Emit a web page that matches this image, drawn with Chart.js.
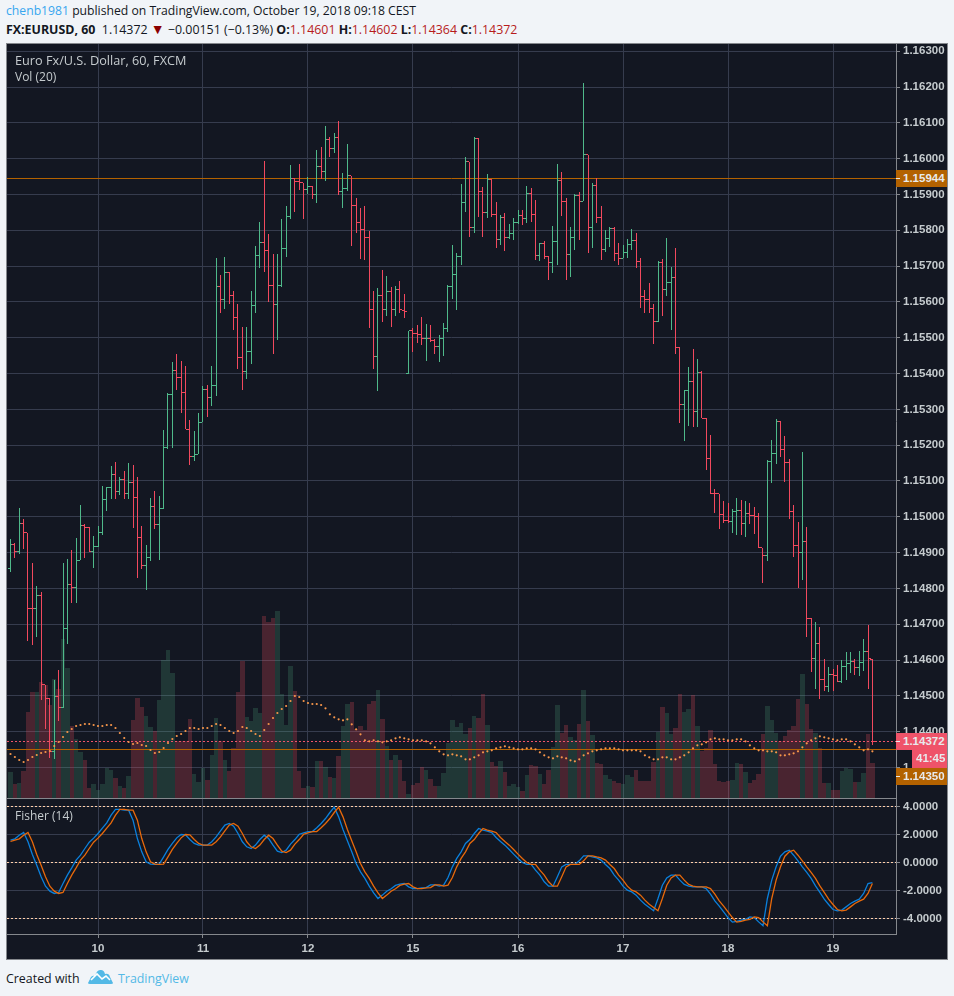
<!DOCTYPE html>
<html>
<head>
<meta charset="utf-8">
<script src="https://cdn.jsdelivr.net/npm/chart.js@4"></script>
<style>
html,body{margin:0;padding:0;background:#f1f4f8;width:954px;height:996px;overflow:hidden}
body{position:relative;font-family:"Open Sans","Noto Sans",sans-serif;color:#131722}
.abs{position:absolute;white-space:nowrap}
#panel{position:absolute;left:6px;top:43px;width:942px;height:917px;box-sizing:border-box;background:#131722;border:1px solid #85888d}
canvas{position:absolute;display:block}
.hdr{font-size:12.4px;line-height:18px}
.legend{color:#c5cbce;font-size:12px;line-height:16px}
.tag{position:absolute;left:896px;width:51px;height:17px;line-height:17px;font:bold 11.5px/17px "Liberation Sans",sans-serif;color:#e8eaec;text-indent:7px}
.tag i{position:absolute;left:0;top:8px;width:4px;height:1px;background:#e8eaec}
</style>
</head>
<body>
<div class="abs hdr" style="left:6px;top:2px;font-size:12.2px"><span style="color:#37a6ef">chenb1981</span> published on TradingView.com, October 19, 2018 09:18 CEST</div>
<div class="abs hdr" style="left:6px;top:21px"><b>FX:EURUSD, 60</b>&nbsp; 1.14372 <span style="color:#8b0000;font-size:14px;line-height:0">▼</span> −0.00151 (−0.13%) <b>O:</b><span style="color:#b71c1c">1.14601</span> <b>H:</b><span style="color:#b71c1c">1.14602</span> <b>L:</b><span style="color:#b71c1c">1.14364</span> <b>C:</b><span style="color:#b71c1c">1.14372</span></div>
<div id="panel"></div>
<canvas id="priceCanvas" width="940" height="754" style="left:7px;top:44px;width:940px;height:754px"></canvas>
<canvas id="fisherCanvas" width="940" height="161" style="left:7px;top:798px;width:940px;height:161px"></canvas>
<div class="abs" style="left:7px;top:798px;width:889px;height:1px;background:#85888d"></div>
<div class="abs legend" style="left:15px;top:52px;font-size:12.7px">Euro Fx/U.S. Dollar, 60, FXCM</div>
<div class="abs legend" style="left:15px;top:69px">Vol (20)</div>
<div class="abs legend" style="left:15px;top:808px">Fisher (14)</div>
<div class="tag" style="top:170px;background:#b36200"><i></i>1.15944</div>
<div class="tag" style="top:733px;background:#ef5369"><i></i>1.14372</div>
<div class="tag" style="top:750px;left:912px;width:35px;height:18px;background:#ef5369;text-indent:4px">41:45</div>
<div class="tag" style="top:768px;background:#b36200"><i></i>1.14350</div>
<div class="abs" style="left:6px;top:970px;font-size:12.4px;line-height:18px">Created with</div>
<svg class="abs" style="left:88px;top:968px" width="25" height="17" viewBox="0 0 25 17"><path d="M0 15 L3 9 Q5 7 7 8 Q9 1 13 2 Q16 2 17 6 Q21 5 22 9 L25 15 Q25 16 23 16 L2 16 Q0 16 0 15Z" fill="#53b9e6"/><path d="M3 12 L9 6 L14 11 L18 8 L22 12" fill="none" stroke="#fff" stroke-width="1.6"/></svg>
<div class="abs" style="left:118px;top:970px;font-size:12.4px;line-height:18px;color:#53b9e6">TradingView</div>

<script>
const dayIndex=[20,44,68,92,116,140,164,188];
const dayLabels=['10','11','12','15','16','17','18','19'];
const priceTicks=[1.163,1.162,1.161,1.160,1.159,1.158,1.157,1.156,1.155,1.154,1.153,1.152,1.151,1.150,1.149,1.148,1.147,1.146,1.145,1.144,1.143];
const fisherTicks=[4,2,0,-2,-4];
const fisherLevels=[4,0,-4];
const alertPrice=1.15944;
const alertPrice2=1.14350;
const lastPrice=1.14372;

const opens=[1.14856,1.14922,1.14903,1.14981,1.14956,1.14744,1.14744,1.14781,1.14531,1.14492,
1.14344,1.14497,1.14467,1.14689,1.14811,1.14803,1.14878,1.14975,1.14969,1.14903,
1.14917,1.14956,1.15047,1.15083,1.15119,1.15072,1.15103,1.15064,1.15097,1.15053,
1.14942,1.14863,1.14886,1.15028,1.14978,1.15022,1.15194,1.15342,1.15408,1.15389,
1.15347,1.15244,1.15169,1.15175,1.15264,1.15356,1.15333,1.15367,1.15644,1.15606,
1.15683,1.15619,1.15556,1.15444,1.15406,1.15461,1.15589,1.15731,1.15767,1.15744,
1.15647,1.15592,1.15647,1.15750,1.15839,1.15944,1.15936,1.15933,1.15914,1.15922,
1.15900,1.15978,1.15964,1.16053,1.16028,1.16058,1.15908,1.15917,1.15953,1.15869,
1.15822,1.15803,1.15781,1.15578,1.15447,1.15617,1.15578,1.15628,1.15578,1.15636,
1.15575,1.15400,1.15519,1.15511,1.15508,1.15497,1.15497,1.15492,1.15475,1.15497,
1.15525,1.15644,1.15678,1.15728,1.15878,1.15992,1.15808,1.16056,1.15908,1.15850,
1.15942,1.15844,1.15775,1.15836,1.15781,1.15792,1.15822,1.15842,1.15833,1.15903,
1.15844,1.15731,1.15764,1.15728,1.15711,1.15769,1.15939,1.15881,1.15733,1.15781,
1.15897,1.15881,1.16011,1.15808,1.15925,1.15836,1.15747,1.15778,1.15806,1.15736,
1.15722,1.15739,1.15761,1.15772,1.15714,1.15614,1.15608,1.15583,1.15544,1.15711,
1.15636,1.15653,1.15669,1.15473,1.15314,1.15354,1.15378,1.15294,1.15403,1.15275,
1.15162,1.15065,1.15064,1.15006,1.14989,1.14986,1.15014,1.15019,1.14980,1.15008,
1.15003,1.15000,1.14914,1.14892,1.15155,1.15178,1.15267,1.15189,1.15153,1.15014,
1.14921,1.14900,1.14930,1.14717,1.14603,1.14647,1.14547,1.14525,1.14561,1.14558,
1.14539,1.14581,1.14589,1.14597,1.14578,1.14592,1.14625,1.14601];

const highs=[1.14939,1.14928,1.15025,1.14994,1.14956,1.14872,1.14808,1.14789,1.14531,1.14494,
1.14544,1.14573,1.14872,1.14881,1.14906,1.14942,1.15033,1.14981,1.14972,1.14947,
1.14975,1.15086,1.15083,1.15142,1.15153,1.15111,1.15128,1.15150,1.15145,1.15111,
1.14975,1.14922,1.15053,1.15072,1.15058,1.15243,1.15347,1.15431,1.15456,1.15434,
1.15420,1.15269,1.15239,1.15289,1.15364,1.15369,1.15422,1.15722,1.15675,1.15725,
1.15683,1.15631,1.15594,1.15531,1.15531,1.15631,1.15756,1.15822,1.15994,1.15789,
1.15733,1.15733,1.15831,1.15867,1.15981,1.15947,1.15986,1.15933,1.15950,1.15925,
1.16025,1.16033,1.16092,1.16061,1.16072,1.16106,1.15961,1.16042,1.15953,1.15889,
1.15861,1.15869,1.15797,1.15631,1.15639,1.15689,1.15672,1.15642,1.15644,1.15658,
1.15622,1.15519,1.15528,1.15536,1.15558,1.15539,1.15536,1.15497,1.15508,1.15542,
1.15647,1.15758,1.15736,1.15928,1.16006,1.15992,1.16061,1.16058,1.15922,1.15958,
1.15942,1.15878,1.15842,1.15847,1.15819,1.15833,1.15856,1.15856,1.15925,1.15917,
1.15886,1.15764,1.15769,1.15728,1.15811,1.15986,1.15964,1.15889,1.15808,1.15900,
1.15906,1.16211,1.16011,1.15933,1.15947,1.15869,1.15800,1.15808,1.15808,1.15764,
1.15758,1.15775,1.15803,1.15792,1.15722,1.15633,1.15653,1.15594,1.15714,1.15719,
1.15778,1.15697,1.15750,1.15473,1.15354,1.15419,1.15469,1.15441,1.15408,1.15275,
1.15228,1.15079,1.15064,1.15044,1.15039,1.15022,1.15053,1.15047,1.15044,1.15039,
1.15028,1.15011,1.14914,1.15158,1.15215,1.15272,1.15267,1.15225,1.15161,1.15033,
1.14986,1.15180,1.14972,1.14717,1.14706,1.14692,1.14603,1.14581,1.14575,1.14586,
1.14600,1.14622,1.14622,1.14603,1.14625,1.14658,1.14697,1.14602];

const lows=[1.14846,1.14885,1.14896,1.14910,1.14652,1.14641,1.14663,1.14488,1.14407,1.14326,
1.14323,1.14429,1.14467,1.14645,1.14759,1.14759,1.14878,1.14884,1.14903,1.14856,
1.14917,1.14948,1.15015,1.15051,1.15051,1.15062,1.15051,1.15051,1.14968,1.14829,
1.14853,1.14795,1.14877,1.14965,1.14879,1.15022,1.15190,1.15191,1.15355,1.15289,
1.15244,1.15144,1.15156,1.15175,1.15264,1.15280,1.15310,1.15338,1.15568,1.15581,
1.15595,1.15523,1.15412,1.15354,1.15384,1.15426,1.15570,1.15695,1.15684,1.15601,
1.15454,1.15495,1.15643,1.15726,1.15831,1.15851,1.15912,1.15831,1.15900,1.15887,
1.15876,1.15942,1.15937,1.16005,1.16016,1.15898,1.15862,1.15910,1.15756,1.15793,
1.15720,1.15718,1.15526,1.15412,1.15351,1.15543,1.15562,1.15529,1.15562,1.15570,
1.15556,1.15400,1.15459,1.15486,1.15481,1.15434,1.15487,1.15454,1.15431,1.15448,
1.15516,1.15609,1.15577,1.15704,1.15851,1.15781,1.15793,1.15837,1.15781,1.15834,
1.15837,1.15751,1.15759,1.15743,1.15776,1.15773,1.15819,1.15815,1.15820,1.15823,
1.15718,1.15715,1.15720,1.15662,1.15681,1.15704,1.15840,1.15662,1.15670,1.15745,
1.15773,1.15881,1.15737,1.15751,1.15820,1.15718,1.15740,1.15754,1.15715,1.15704,
1.15722,1.15723,1.15746,1.15694,1.15582,1.15568,1.15568,1.15482,1.15544,1.15560,
1.15616,1.15521,1.15455,1.15262,1.15212,1.15254,1.15251,1.15251,1.15275,1.15131,
1.15064,1.15012,1.14965,1.14983,1.14983,1.14955,1.14948,1.14948,1.14943,1.14979,
1.14951,1.14912,1.14816,1.14876,1.15095,1.15148,1.15168,1.15098,1.14995,1.14888,
1.14800,1.14823,1.14664,1.14566,1.14519,1.14491,1.14513,1.14510,1.14513,1.14539,
1.14536,1.14543,1.14563,1.14557,1.14555,1.14569,1.14519,1.14364];

const closes=[1.14922,1.14903,1.14981,1.14956,1.14744,1.14743,1.14781,1.14531,1.14492,1.14344,
1.14497,1.14467,1.14689,1.14811,1.14803,1.14878,1.14975,1.14969,1.14903,1.14917,
1.14956,1.15047,1.15083,1.15119,1.15072,1.15103,1.15064,1.15097,1.15053,1.14942,
1.14863,1.14886,1.15028,1.14978,1.15022,1.15194,1.15342,1.15408,1.15389,1.15347,
1.15244,1.15169,1.15175,1.15264,1.15356,1.15333,1.15367,1.15644,1.15606,1.15683,
1.15619,1.15556,1.15444,1.15406,1.15461,1.15589,1.15731,1.15767,1.15744,1.15647,
1.15592,1.15647,1.15750,1.15839,1.15944,1.15936,1.15933,1.15914,1.15922,1.15900,
1.15978,1.15964,1.16053,1.16028,1.16058,1.15908,1.15917,1.15953,1.15869,1.15822,
1.15803,1.15781,1.15578,1.15447,1.15617,1.15578,1.15628,1.15578,1.15636,1.15578,
1.15574,1.15519,1.15511,1.15508,1.15497,1.15498,1.15492,1.15475,1.15497,1.15525,
1.15644,1.15678,1.15728,1.15878,1.15992,1.15808,1.16056,1.15908,1.15850,1.15942,
1.15844,1.15775,1.15836,1.15781,1.15792,1.15822,1.15842,1.15833,1.15903,1.15844,
1.15731,1.15764,1.15728,1.15711,1.15769,1.15939,1.15881,1.15733,1.15781,1.15897,
1.15881,1.16011,1.15808,1.15925,1.15836,1.15747,1.15778,1.15806,1.15736,1.15722,
1.15739,1.15761,1.15772,1.15714,1.15614,1.15608,1.15583,1.15544,1.15711,1.15636,
1.15653,1.15669,1.15473,1.15314,1.15354,1.15378,1.15294,1.15403,1.15275,1.15162,
1.15065,1.15064,1.15006,1.14989,1.14986,1.15014,1.15019,1.14980,1.15008,1.15003,
1.15000,1.14914,1.14892,1.15155,1.15178,1.15267,1.15189,1.15153,1.15014,1.14921,
1.14900,1.14930,1.14717,1.14603,1.14647,1.14547,1.14525,1.14561,1.14558,1.14539,
1.14581,1.14589,1.14597,1.14578,1.14592,1.14625,1.14603,1.14372];

const volumes=[79,42,46,80,259,319,319,349,339,280,
358,328,478,391,217,178,139,115,31,43,
25,43,91,85,61,37,31,67,235,301,
274,247,214,202,295,415,445,376,172,172,
172,238,73,49,91,55,130,241,172,115,
82,151,319,412,244,232,271,256,547,529,
541,562,313,220,397,322,82,31,37,34,
111,111,93,63,60,126,216,282,288,207,
216,204,282,291,324,237,156,114,129,114,
51,12,39,45,93,84,57,36,36,75,
165,234,213,225,192,210,246,240,312,219,
108,96,111,78,36,42,33,21,69,99,
96,72,42,84,153,279,195,219,183,174,
222,324,231,189,105,102,69,57,51,45,
42,69,64,84,52,50,52,108,198,272,
254,193,210,312,258,266,308,216,142,151,
204,102,52,48,52,54,105,101,78,44,
54,72,193,276,234,195,172,186,204,216,
296,372,282,207,194,149,44,44,24,24,
80,90,86,48,48,74,192,104];

const volumeMA=[132,123,114,108,114,123,129,135,138,141,
156,168,183,198,207,216,219,222,222,219,
216,216,219,219,210,195,180,168,162,165,
159,156,144,135,138,150,165,177,186,192,
201,210,210,207,210,210,216,222,219,210,
201,195,201,213,210,201,192,186,204,222,
240,255,267,276,291,306,303,291,285,282,
282,279,269,251,242,236,233,236,221,206,
191,173,170,173,170,167,170,173,179,182,
179,176,173,173,173,170,164,152,140,131,
128,131,128,125,116,116,122,128,137,140,
143,149,152,155,152,149,146,146,149,149,
146,137,128,122,119,125,122,119,113,110,
116,128,134,140,143,146,149,149,149,146,
143,143,143,143,140,128,122,116,116,122,
122,116,116,122,128,137,149,158,161,167,
176,179,176,176,173,173,176,176,170,158,
149,143,143,140,140,137,128,128,131,134,
140,152,164,173,179,185,182,179,176,173,
176,176,170,161,152,143,146,140];

const fisher=[1.60,1.69,1.95,2.14,1.48,0.57,-0.19,-1.02,-1.69,-2.05,
-2.21,-2.14,-1.50,-0.90,-0.38,0.17,0.52,1.00,1.45,1.74,
2.07,2.45,2.83,3.38,3.79,3.79,3.74,3.74,3.02,1.71,
0.76,0.05,-0.12,-0.14,-0.12,0.40,0.93,1.36,1.76,2.00,
1.98,1.64,1.36,1.24,1.24,1.24,1.48,1.83,2.26,2.67,
2.79,2.60,2.07,1.48,1.12,1.00,1.24,1.64,1.95,1.71,
1.24,0.81,0.71,0.88,1.31,1.64,2.02,2.12,2.21,2.21,
2.48,2.79,3.14,3.57,3.95,3.26,2.36,1.55,0.76,-0.07,
-0.67,-1.14,-1.69,-2.17,-2.57,-2.33,-2.05,-1.88,-1.64,-1.55,
-1.50,-1.74,-1.86,-1.86,-1.81,-1.79,-1.60,-1.60,-1.69,-1.62,
-1.07,-0.31,0.29,0.76,1.36,1.64,2.07,2.43,2.31,2.24,
2.14,1.79,1.50,1.24,0.93,0.60,0.29,0.00,-0.14,-0.14,
-0.55,-0.90,-1.38,-1.69,-1.69,-1.02,-0.31,-0.14,-0.14,-0.14,
0.12,0.48,0.48,0.40,0.33,0.17,-0.14,-0.43,-0.90,-1.26,
-1.69,-1.98,-2.10,-2.33,-2.69,-2.98,-3.21,-3.45,-2.57,-1.62,
-1.10,-0.90,-0.90,-1.26,-1.57,-1.69,-1.74,-1.74,-1.74,-1.86,
-2.26,-2.74,-3.12,-3.52,-3.93,-4.26,-4.21,-4.12,-4.07,-3.88,
-3.93,-4.24,-4.52,-2.57,-1.26,-0.31,0.45,0.76,0.88,0.52,
0.12,-0.31,-0.71,-1.14,-1.67,-2.14,-2.62,-3.00,-3.36,-3.45,
-3.40,-3.17,-2.93,-2.76,-2.62,-2.21,-1.50,-1.43];

const fisherTrigger=[1.50,1.60,1.69,1.95,2.14,1.48,0.57,-0.19,-1.02,-1.69,-2.05,
-2.21,-2.14,-1.50,-0.90,-0.38,0.17,0.52,1.00,1.45,1.74,
2.07,2.45,2.83,3.38,3.79,3.79,3.74,3.74,3.02,1.71,
0.76,0.05,-0.12,-0.14,-0.12,0.40,0.93,1.36,1.76,2.00,
1.98,1.64,1.36,1.24,1.24,1.24,1.48,1.83,2.26,2.67,
2.79,2.60,2.07,1.48,1.12,1.00,1.24,1.64,1.95,1.71,
1.24,0.81,0.71,0.88,1.31,1.64,2.02,2.12,2.21,2.21,
2.48,2.79,3.14,3.57,3.95,3.26,2.36,1.55,0.76,-0.07,
-0.67,-1.14,-1.69,-2.17,-2.57,-2.33,-2.05,-1.88,-1.64,-1.55,
-1.50,-1.74,-1.86,-1.86,-1.81,-1.79,-1.60,-1.60,-1.69,-1.62,
-1.07,-0.31,0.29,0.76,1.36,1.64,2.07,2.43,2.31,2.24,
2.14,1.79,1.50,1.24,0.93,0.60,0.29,0.00,-0.14,-0.14,
-0.55,-0.90,-1.38,-1.69,-1.69,-1.02,-0.31,-0.14,-0.14,-0.14,
0.12,0.48,0.48,0.40,0.33,0.17,-0.14,-0.43,-0.90,-1.26,
-1.69,-1.98,-2.10,-2.33,-2.69,-2.98,-3.21,-3.45,-2.57,-1.62,
-1.10,-0.90,-0.90,-1.26,-1.57,-1.69,-1.74,-1.74,-1.74,-1.86,
-2.26,-2.74,-3.12,-3.52,-3.93,-4.26,-4.21,-4.12,-4.07,-3.88,
-3.93,-4.24,-4.52,-2.57,-1.26,-0.31,0.45,0.76,0.88,0.52,
0.12,-0.31,-0.71,-1.14,-1.67,-2.14,-2.62,-3.00,-3.36,-3.45,
-3.40,-3.17,-2.93,-2.76,-2.62,-2.21,-1.50];

const UP='#4fb98a', DOWN='#f2495e', GRID='#363c4e', AXIS='#85888d', TXT='#c5cbce';
const FONT={family:'"Liberation Sans",Arial,sans-serif',size:11.5,weight:'bold'};
const XMIN=-0.8, XMAX=202.4;
const isUp=i=>closes[i]>=opens[i];
const noOverhang=s=>{s.paddingLeft=s.paddingRight=s.paddingTop=s.paddingBottom=0;if(s._margins){s._margins.left=s._margins.right=s._margins.top=s._margins.bottom=0;}};

function tickImage(color,side){
  const c=document.createElement('canvas');c.width=5;c.height=1;
  const g=c.getContext('2d');g.fillStyle=color;
  g.fillRect(side==='left'?0:3,0,2,1);
  return c;
}
const tickImgs={lu:tickImage(UP,'left'),ld:tickImage(DOWN,'left'),ru:tickImage(UP,'right'),rd:tickImage(DOWN,'right')};

const snapPlugin={id:'snap',beforeDatasetDraw(chart,args){
  const ds=chart.data.datasets[args.index], m=args.meta;
  if(!ds.snap) return;
  m.data.forEach(el=>{
    if(ds.snap==='wick'){
      el.x=Math.floor(el.x)+0.5;el.y=Math.round(el.y);el.base=Math.round(el.base);
    }else if(ds.snap==='vol'){
      const l=Math.round(el.x-el.width/2),r=Math.round(el.x+el.width/2);
      el.x=(l+r)/2;el.width=r-l;el.y=Math.round(el.y);el.base=Math.round(el.base);
    }else if(ds.snap==='point'){
      el.x=Math.floor(el.x)+0.5;el.y=Math.floor(el.y)+0.5;
    }else if(ds.snap==='hline'){
      el.y=Math.floor(el.y)+0.5;
    }
  });
}};

const hline=(value,color,dash,yAxisID)=>({type:'line',data:[{x:XMIN,y:value},{x:XMAX,y:value}],borderColor:color,borderWidth:1,borderDash:dash,pointRadius:0,yAxisID,snap:'hline',order:5});

function xScale(showLabels){
  return {type:'linear',min:XMIN,max:XMAX,offset:false,
    grid:{color:GRID,lineWidth:1,offset:false,tickLength:showLabels?4:0,tickColor:AXIS,drawTicks:showLabels},
    border:{display:showLabels,color:AXIS},
    afterBuildTicks:s=>{s.ticks=dayIndex.map(v=>({value:v}));},
    afterFit:s=>{s.height=showLabels?25:0;noOverhang(s);},
    ticks:{display:showLabels,autoSkip:false,maxRotation:0,color:TXT,font:FONT,padding:4,
      callback:v=>dayLabels[dayIndex.indexOf(v)]}};
}

new Chart(document.getElementById('priceCanvas'),{
  type:'bar',plugins:[snapPlugin],
  data:{datasets:[
    {type:'bar',label:'Vol',yAxisID:'yVol',grouped:false,order:10,snap:'vol',barPercentage:1,categoryPercentage:1,barThickness:4.375,inflateAmount:0,
      data:volumes.map((v,i)=>({x:i,y:v})),
      backgroundColor:volumes.map((v,i)=>isUp(i)?'rgba(83,185,135,.2)':'rgba(235,77,92,.25)'),borderWidth:0},
    {type:'bar',label:'High-Low',yAxisID:'y',grouped:false,order:4,snap:'wick',barThickness:1,inflateAmount:0,
      data:highs.map((h,i)=>({x:i,y:[lows[i],h]})),
      backgroundColor:highs.map((h,i)=>isUp(i)?UP:DOWN),borderWidth:0},
    {type:'line',label:'Open',yAxisID:'y',order:3,snap:'point',showLine:false,
      data:opens.map((v,i)=>({x:i,y:v})),
      pointStyle:c=>isUp(c.dataIndex)?tickImgs.lu:tickImgs.ld},
    {type:'line',label:'Close',yAxisID:'y',order:3,snap:'point',showLine:false,
      data:closes.map((v,i)=>({x:i,y:v})),
      pointStyle:c=>isUp(c.dataIndex)?tickImgs.ru:tickImgs.rd},
    hline(alertPrice,'#b36200',[],'y'),
    hline(alertPrice2,'#b36200',[],'y'),
    hline(lastPrice,'#ef5369',[2,2],'y'),
    {type:'line',label:'Vol MA',yAxisID:'yVol',order:1,showLine:false,
      data:volumeMA.map((v,i)=>({x:i,y:v})),
      pointRadius:1.1,pointBorderWidth:0,pointBackgroundColor:'#f7964a'}
  ]},
  options:{responsive:false,animation:false,devicePixelRatio:1,events:[],
    layout:{padding:0,autoPadding:false},
    plugins:{legend:{display:false},tooltip:{enabled:false}},
    scales:{
      x:xScale(false),
      y:{type:'linear',position:'right',min:1.142148,max:1.1632025,
        grid:{color:GRID,lineWidth:1,tickLength:4,tickColor:AXIS},
        border:{color:AXIS},
        afterBuildTicks:s=>{s.ticks=priceTicks.map(v=>({value:v}));},
        afterFit:s=>{s.width=51;noOverhang(s);},
        ticks:{color:TXT,font:FONT,padding:3,autoSkip:false,callback:v=>v.toFixed(5)}},
      yVol:{type:'linear',display:false,position:'left',min:0,max:2262,afterFit:s=>{s.width=0;noOverhang(s);}}
    }}
});

new Chart(document.getElementById('fisherCanvas'),{
  type:'line',plugins:[snapPlugin],
  data:{datasets:[
    ...fisherLevels.map(v=>hline(v,'#ffcfa8',[2,2],'y')),
    {label:'Fisher',data:fisher.map((v,i)=>({x:i,y:v})),borderColor:'#0b80dc',borderWidth:1.3,pointRadius:0,tension:0,order:2},
    {label:'Trigger',data:fisherTrigger.map((v,i)=>({x:i,y:v})),borderColor:'#e8690b',borderWidth:1.3,pointRadius:0,tension:0,order:1}
  ]},
  options:{responsive:false,animation:false,devicePixelRatio:1,events:[],
    layout:{padding:0,autoPadding:false},
    plugins:{legend:{display:false},tooltip:{enabled:false}},
    scales:{
      x:xScale(true),
      y:{type:'linear',position:'right',min:-5.107,max:4.607,
        grid:{color:GRID,lineWidth:1,tickLength:4,tickColor:AXIS},
        border:{color:AXIS},
        afterBuildTicks:s=>{s.ticks=fisherTicks.map(v=>({value:v}));},
        afterFit:s=>{s.width=51;noOverhang(s);},
        ticks:{color:TXT,font:FONT,padding:3,autoSkip:false,callback:v=>v.toFixed(4)}}
    }}
});
</script>
</body>
</html>
